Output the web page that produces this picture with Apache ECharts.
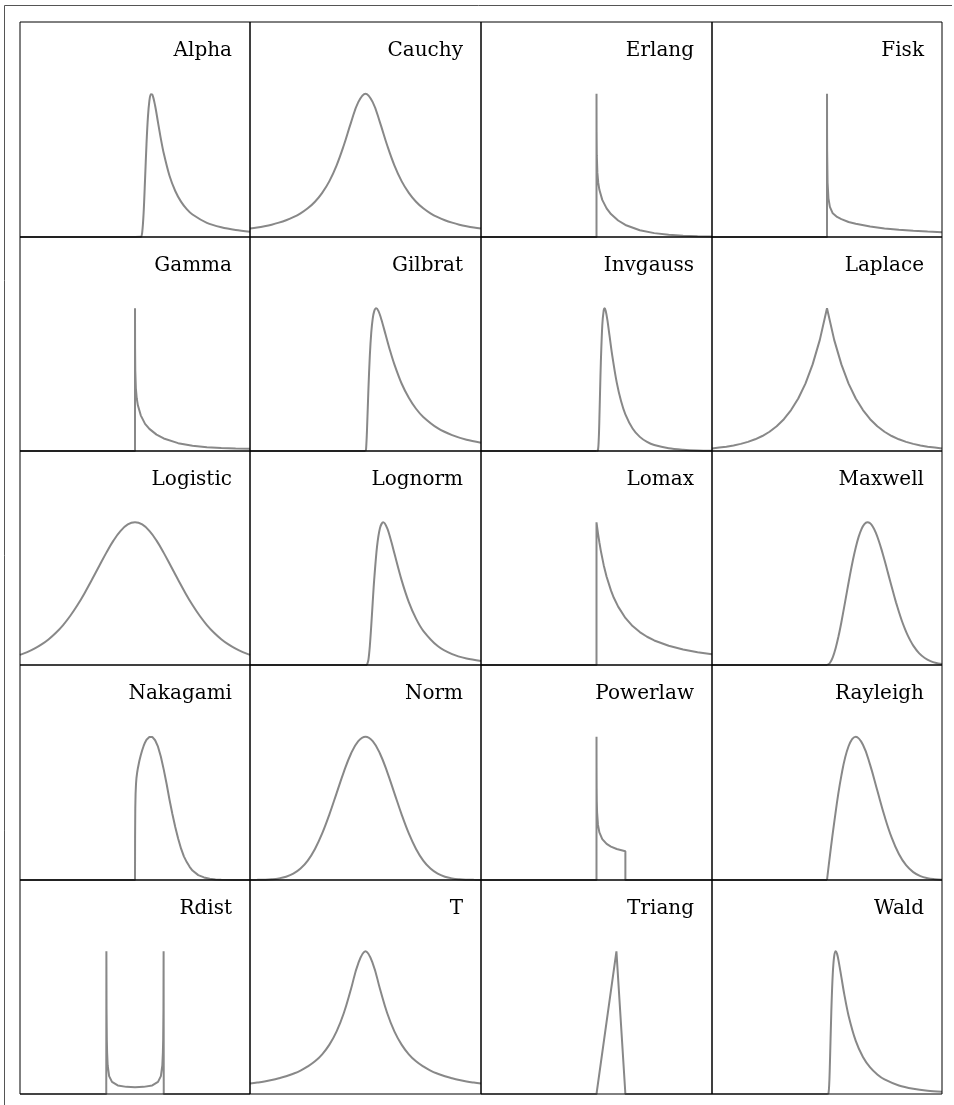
<!DOCTYPE html>
<html><head><meta charset="utf-8">
<script src="https://cdn.jsdelivr.net/npm/echarts@6/dist/echarts.min.js"></script>
<style>html,body{margin:0;padding:0;background:#fff}#c{width:954px;height:1105px}</style>
</head><body><div id="c"></div>
<script>
// ---------- DATA (y = density relative to each panel's peak) ----------
const names = ['Alpha','Cauchy','Erlang','Fisk','Gamma','Gilbrat','Invgauss','Laplace','Logistic','Lognorm','Lomax','Maxwell','Nakagami','Norm','Powerlaw','Rayleigh','Rdist','T','Triang','Wald'];

const xSym = [-4,-3.75,-3.5,-3.25,-3,-2.75,-2.5,-2.25,-2,-1.75,-1.5,-1.25,-1,-0.75,-0.5,-0.25,0,0.25,0.5,0.75,1,1.25,1.5,1.75,2,2.25,2.5,2.75,3,3.25,3.5,3.75,4];

const alphaX = [-4,0,0.2,0.25,0.3,0.35,0.4,0.45,0.5,0.55,0.6,0.7,0.8,0.9,1,1.2,1.4,1.6,1.8,2,2.5,3,3.5,4];
const alphaY = [0,0,0.001,0.031,0.168,0.404,0.650,0.838,0.949,0.996,0.994,0.916,0.800,0.685,0.584,0.427,0.321,0.247,0.195,0.157,0.099,0.068,0.049,0.037];

const cauchyY = [0.059,0.066,0.075,0.086,0.100,0.117,0.138,0.165,0.200,0.246,0.308,0.390,0.500,0.640,0.800,0.941,1,0.941,0.800,0.640,0.500,0.390,0.308,0.246,0.200,0.165,0.138,0.117,0.100,0.086,0.075,0.066,0.059];

const erlangX = [-4,0,0.0006,0.001,0.003,0.01,0.03,0.06,0.1,0.2,0.35,0.5,0.75,1,1.5,2,2.5,3,3.5,4];
const erlangY = [0,0,1,0.912,0.734,0.571,0.449,0.379,0.329,0.259,0.200,0.160,0.115,0.084,0.047,0.027,0.016,0.009,0.005,0.003];

const fiskX = [-4,0,0.0006,0.002,0.005,0.02,0.05,0.1,0.2,0.35,0.5,0.75,1,1.5,2,2.5,3,3.5,4];
const fiskY = [0,0,1,0.75,0.60,0.38,0.27,0.21,0.165,0.14,0.125,0.105,0.092,0.073,0.060,0.050,0.043,0.038,0.034];

const gammaX = [-4,0,0.0006,0.001,0.003,0.01,0.03,0.06,0.1,0.2,0.35,0.5,0.75,1,1.5,2,2.5,3,3.5,4];
const gammaY = [0,0,1,0.90,0.72,0.56,0.44,0.37,0.32,0.25,0.19,0.155,0.115,0.088,0.055,0.037,0.027,0.021,0.018,0.016];

const gilbratX = [-4,0,0.02,0.05,0.1,0.15,0.2,0.25,0.3,0.368,0.45,0.55,0.7,0.85,1,1.25,1.5,1.75,2,2.5,3,3.5,4];
const gilbratY = [0,0,0.014,0.137,0.428,0.669,0.831,0.928,0.979,1,0.980,0.922,0.813,0.704,0.607,0.473,0.373,0.296,0.239,0.160,0.111,0.079,0.058];

const invgaussX = [-4,0,0.05,0.08,0.1,0.125,0.15,0.2,0.25,0.28,0.32,0.375,0.45,0.55,0.7,0.85,1,1.25,1.5,1.75,2,2.5,3,3.5,4];
const invgaussY = [0,0,0.005,0.093,0.226,0.429,0.619,0.880,0.987,1,0.982,0.921,0.810,0.663,0.481,0.350,0.257,0.158,0.099,0.064,0.042,0.019,0.009,0.004,0.002];

const laplaceY = [0.018,0.024,0.030,0.039,0.050,0.064,0.082,0.105,0.135,0.174,0.223,0.287,0.368,0.472,0.607,0.779,1,0.779,0.607,0.472,0.368,0.287,0.223,0.174,0.135,0.105,0.082,0.064,0.050,0.039,0.030,0.024,0.018];

const logisticY = [0.071,0.090,0.114,0.144,0.181,0.226,0.280,0.345,0.420,0.505,0.597,0.692,0.786,0.872,0.940,0.985,1,0.985,0.940,0.872,0.786,0.692,0.597,0.505,0.420,0.345,0.280,0.226,0.181,0.144,0.114,0.090,0.071];

const lognormX = [-4,0,0.05,0.1,0.15,0.2,0.25,0.3,0.4,0.5,0.61,0.75,0.9,1,1.25,1.5,1.75,2,2.5,3,3.5,4];
const lognormY = [0,0,0,0.035,0.133,0.278,0.441,0.595,0.831,0.959,1,0.959,0.860,0.783,0.595,0.441,0.325,0.240,0.133,0.076,0.045,0.028];

const lomaxX = [-4,0,0,0.05,0.1,0.15,0.25,0.35,0.5,0.6,0.75,1,1.25,1.5,1.75,2,2.5,3,3.5,4];
const lomaxY = [0,0,1,0.925,0.859,0.800,0.700,0.619,0.523,0.471,0.409,0.330,0.273,0.231,0.198,0.172,0.135,0.109,0.090,0.076];

const maxwellX = [-4,0,0.1,0.2,0.3,0.4,0.5,0.6,0.7,0.8,0.9,1.0,1.1,1.2,1.3,1.4,1.5,1.6,1.7,1.8,1.9,2.0,2.1,2.2,2.3,2.4,2.5,2.6,2.7,2.8,2.9,3.0,3.2,3.4,3.6,3.8,4.0];
const maxwellY = [0,0,0.014,0.053,0.117,0.201,0.300,0.409,0.521,0.632,0.734,0.824,0.898,0.953,0.987,1.0,0.993,0.967,0.926,0.871,0.807,0.736,0.661,0.585,0.511,0.439,0.373,0.312,0.259,0.211,0.171,0.136,0.083,0.049,0.027,0.014,0.007];

const nakagamiX = [-4,0,0.003,0.01,0.02,0.035,0.05,0.075,0.1,0.15,0.2,0.25,0.3,0.35,0.4,0.45,0.5,0.55,0.6,0.65,0.7,0.8,0.9,1.0,1.1,1.2,1.3,1.4,1.5,1.6,1.7,1.8,1.9,2.0,2.2,2.4,2.6,2.8,3.0,3.5,4];
const nakagamiY = [0,0,0.30,0.50,0.60,0.67,0.71,0.75,0.78,0.83,0.87,0.905,0.935,0.96,0.978,0.99,0.997,1.0,0.998,0.99,0.975,0.93,0.86,0.77,0.67,0.56,0.46,0.37,0.29,0.22,0.165,0.125,0.092,0.066,0.034,0.018,0.009,0.004,0.002,0,0];

const normY = [0.0003,0.0009,0.0022,0.0051,0.0111,0.0228,0.0439,0.0796,0.1353,0.2163,0.3247,0.4578,0.6065,0.7548,0.8825,0.9692,1,0.9692,0.8825,0.7548,0.6065,0.4578,0.3247,0.2163,0.1353,0.0796,0.0439,0.0228,0.0111,0.0051,0.0022,0.0009,0.0003];

const powerlawX = [-4,0,0.0007,0.001,0.002,0.005,0.01,0.02,0.05,0.1,0.2,0.35,0.5,0.7,1,1,4];
const powerlawY = [0,0,1,0.914,0.785,0.642,0.550,0.472,0.386,0.332,0.285,0.252,0.233,0.216,0.200,0,0];

const rayleighX = [-4,0,0.25,0.5,0.75,1,1.25,1.5,1.75,2,2.25,2.5,2.75,3,3.25,3.5,3.75,4];
const rayleighY = [0,0,0.400,0.728,0.933,1,0.944,0.803,0.624,0.446,0.295,0.181,0.103,0.055,0.027,0.013,0.006,0.002];

const rdistX = [-4,-1,-0.995,-0.99,-0.98,-0.97,-0.95,-0.9,-0.8,-0.6,-0.3,0,0.3,0.6,0.8,0.9,0.95,0.97,0.98,0.99,0.995,1,4];
const rdistY = [0,0,1,0.60,0.38,0.29,0.20,0.125,0.085,0.060,0.050,0.047,0.050,0.060,0.085,0.125,0.20,0.29,0.38,0.60,1,0,0];

const tY = [0.073,0.080,0.088,0.098,0.110,0.124,0.142,0.164,0.193,0.229,0.278,0.346,0.439,0.568,0.738,0.916,1,0.916,0.738,0.568,0.439,0.346,0.278,0.229,0.193,0.164,0.142,0.124,0.110,0.098,0.088,0.080,0.073];

const triangX = [-4,0,0.69,1,4];
const triangY = [0,0,1,0,0];

const waldX = [-4,0,0.05,0.08,0.1,0.15,0.2,0.25,0.303,0.35,0.4,0.5,0.6,0.75,1,1.25,1.5,1.75,2,2.5,3,3.5,4];
const waldY = [0,0,0.004,0.083,0.205,0.576,0.839,0.966,1,0.982,0.937,0.819,0.700,0.549,0.372,0.259,0.186,0.137,0.102,0.060,0.037,0.023,0.015];

// ---------- ASSEMBLY ----------
const panelData = [
  [alphaX, alphaY], [xSym, cauchyY], [erlangX, erlangY], [fiskX, fiskY],
  [gammaX, gammaY], [gilbratX, gilbratY], [invgaussX, invgaussY], [xSym, laplaceY],
  [xSym, logisticY], [lognormX, lognormY], [lomaxX, lomaxY], [maxwellX, maxwellY],
  [nakagamiX, nakagamiY], [xSym, normY], [powerlawX, powerlawY], [rayleighX, rayleighY],
  [rdistX, rdistY], [xSym, tY], [triangX, triangY], [waldX, waldY]
];
const smoothFlags = [0.3,0.4,0,0,0,0.3,0.3,0,0.4,0.3,0,0.2,0,0.4,0,0.4,0,0.4,0,0.3];

const colLeft = [20, 250, 481, 712, 942];
const rowTop = [22, 237, 451, 665, 880, 1094];
const LINE = { color: '#888', width: 2 };

const grids = [], xAxes = [], yAxes = [], series = [], titles = [];
names.forEach((name, i) => {
  const c = i % 4, r = Math.floor(i / 4);
  grids.push({ left: colLeft[c], top: rowTop[r], width: colLeft[c+1] - colLeft[c], height: rowTop[r+1] - rowTop[r],
    show: true, borderColor: '#000', borderWidth: 1, z: 5 });
  xAxes.push({ gridIndex: i, type: 'value', min: -4, max: 4, show: false });
  yAxes.push({ gridIndex: i, type: 'value', min: 0, max: 1.5, show: false });
  const [xs, ys] = panelData[i];
  const pts = xs.map((x, k) => [x, ys[k]]);
  const sm = smoothFlags[i];
  if (sm > 0) {
    // flat zero run drawn straight, the curve itself smoothed
    let k0 = ys.findIndex(v => v > 0);
    const start = Math.max(0, k0 - 1);
    if (start > 0) {
      series.push({ type: 'line', xAxisIndex: i, yAxisIndex: i, data: pts.slice(0, start + 1),
        showSymbol: false, smooth: false, lineStyle: LINE, z: 2, silent: true });
    }
    series.push({ type: 'line', xAxisIndex: i, yAxisIndex: i, data: pts.slice(start),
      showSymbol: false, smooth: sm, lineStyle: LINE, z: 2, silent: true });
  } else {
    series.push({ type: 'line', xAxisIndex: i, yAxisIndex: i, data: pts,
      showSymbol: false, smooth: false, lineStyle: LINE, z: 2, silent: true });
  }
  titles.push({ text: name, right: 954 - (colLeft[c+1] - 18), top: rowTop[r] + 19, padding: 0,
    textStyle: { fontFamily: 'DejaVu Serif', fontSize: 20, fontWeight: 'normal', color: '#000' } });
});

const chart = echarts.init(document.getElementById('c'), null, { renderer: 'canvas' });
chart.setOption({
  animation: false,
  backgroundColor: '#fff',
  title: titles,
  grid: grids, xAxis: xAxes, yAxis: yAxes, series: series,
  graphic: [
    { type: 'line', shape: { x1: 4.5, y1: 5.5, x2: 952, y2: 5.5 }, style: { stroke: '#555', lineWidth: 1 }, z: 10 },
    { type: 'line', shape: { x1: 4.5, y1: 5.5, x2: 4.5, y2: 1105 }, style: { stroke: '#555', lineWidth: 1 }, z: 10 }
  ]
});
</script></body></html>
